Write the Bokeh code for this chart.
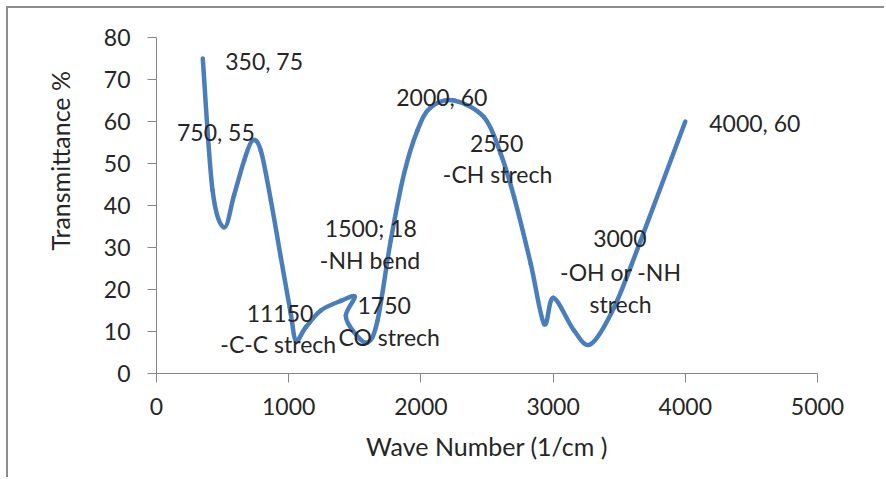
from bokeh.plotting import figure
from bokeh.models import Range1d, FixedTicker, Title
from bokeh.core.properties import value
from bokeh.embed import file_html
from bokeh.resources import INLINE

# ---- data ----
wave_number = [350, 424, 512, 587, 663, 726, 789, 865, 940, 1016, 1054, 1129, 1243, 1394,
               1500, 1432, 1495, 1596, 1672, 1772, 1873, 1974, 2075, 2251, 2478, 2604, 2705,
               2831, 2932, 3003, 3159, 3285, 3461, 3663, 4000]
transmittance = [75, 43.6, 34.8, 42.5, 50.7, 55.5, 53.1, 41.2, 27.7, 14.2, 7.8, 11, 15, 17.3,
                 18.3, 13.8, 9.8, 7.4, 12.6, 31.7, 47.6, 57.9, 63.4, 65, 61, 52.3, 42,
                 26.1, 11.8, 18, 10.2, 7, 15.7, 31.7, 60]

x_ticks = [0, 1000, 2000, 3000, 4000, 5000]
y_ticks = [0, 10, 20, 30, 40, 50, 60, 70, 80]

note_text = ["350, 75", "750, 55", "2000, 60", "2550", "-CH strech", "1500; 18", "-NH bend",
             "11150", "-C-C strech", "1750", "CO strech", "3000", "-OH or -NH", "strech", "4000, 60"]
note_x = [814, 449, 2158, 2573, 2580, 1621, 1615, 934, 921, 1722, 1760, 3505, 3512, 3510, 4526]
note_y = [74.3, 57.5, 65.8, 54.7, 47.4, 34.6, 27.1, 14.4, 7.0, 16.3, 8.8, 32.1, 24.1, 16.6, 59.7]

FONT = "Lato"
TXT = "#262626"
AXC = "#868686"
LINE = "#4A7EBB"

p = figure(width=878, height=471, output_backend="svg", toolbar_location=None,
           x_range=Range1d(0, 5000), y_range=Range1d(0, 80),
           min_border_left=148, min_border_right=69, min_border_top=29, min_border_bottom=106)
p.styles = {"border-left": "2px solid #8C8C8C", "border-top": "2px solid #8C8C8C",
            "margin-left": "6px", "margin-top": "6px"}
p.outline_line_color = None
p.grid.visible = False
p.background_fill_color = "white"
p.border_fill_color = "white"

for ax in (p.xaxis[0], p.yaxis[0]):
    ax.axis_line_color = AXC
    ax.major_tick_line_color = AXC
    ax.minor_tick_line_color = None
    ax.major_tick_in = 0
    ax.major_tick_out = 9
    ax.major_label_text_font = FONT
    ax.major_label_text_font_size = "23px"
    ax.major_label_text_color = TXT
    ax.axis_label_text_font = FONT
    ax.axis_label_text_font_size = "25px"
    ax.axis_label_text_font_style = "normal"
    ax.axis_label_text_color = TXT

p.xaxis.ticker = FixedTicker(ticks=x_ticks)
p.yaxis.ticker = FixedTicker(ticks=y_ticks)
p.xaxis.axis_label = "Wave Number (1/cm )"
p.xaxis.major_label_standoff = 15
p.yaxis.major_label_standoff = 17
p.xaxis.axis_label_standoff = 13

# y axis title as a side title (sits above the axis centre, as in the reference)
p.add_layout(Title(text="Transmittance %", align="left", vertical_align="top",
                   offset=123, standoff=48,
                   text_font=FONT, text_font_size="25px", text_font_style="normal",
                   text_color=TXT), "left")

# smoothed line (Catmull-Rom style bezier through the points)
n = len(wave_number)
x0, y0, x1, y1, cx0, cy0, cx1, cy1 = [], [], [], [], [], [], [], []
for i in range(n - 1):
    a = max(i - 1, 0)
    d = min(i + 2, n - 1)
    x0.append(wave_number[i]); y0.append(transmittance[i])
    x1.append(wave_number[i + 1]); y1.append(transmittance[i + 1])
    cx0.append(wave_number[i] + (wave_number[i + 1] - wave_number[a]) / 6)
    cy0.append(transmittance[i] + (transmittance[i + 1] - transmittance[a]) / 6)
    cx1.append(wave_number[i + 1] - (wave_number[d] - wave_number[i]) / 6)
    cy1.append(transmittance[i + 1] - (transmittance[d] - transmittance[i]) / 6)

p.bezier(x0=x0, y0=y0, x1=x1, y1=y1, cx0=cx0, cy0=cy0, cx1=cx1, cy1=cy1,
         line_color=LINE, line_width=4.5, line_cap="round")

p.text(x=note_x, y=note_y, text=note_text, text_font=value(FONT), text_font_size="23px",
       text_color=TXT, text_align="center", text_baseline="middle")

open("out.html", "w").write(file_html(p, INLINE))
